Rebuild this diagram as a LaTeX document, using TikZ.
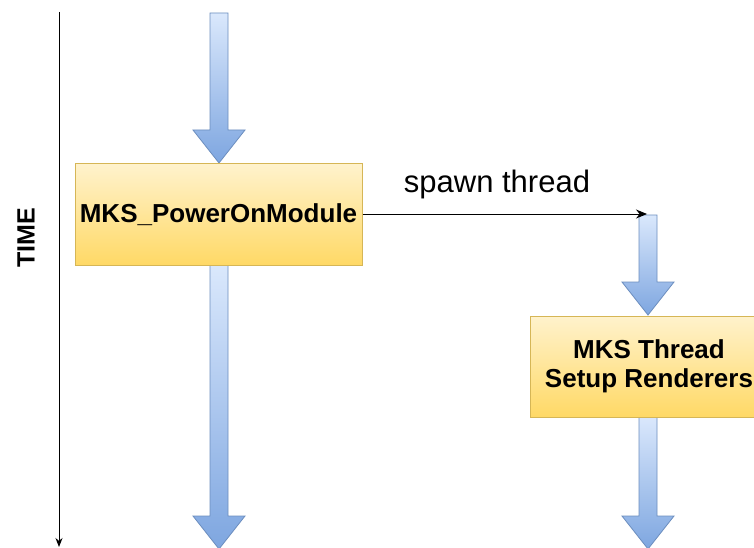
\documentclass[tikz,border=0pt]{standalone}
\usepackage{fontspec}
\setmainfont{Liberation Sans}
\usetikzlibrary{arrows.meta}
\definecolor{arrtop}{HTML}{DAE8FC}
\definecolor{arrbot}{HTML}{7EA6E0}
\definecolor{arrline}{HTML}{6C8EBF}
\definecolor{boxtop}{HTML}{FFF2CC}
\definecolor{boxbot}{HTML}{FFD966}
\definecolor{boxline}{HTML}{D6B656}
\tikzset{
  procbox/.style={draw=boxline, line width=1pt, top color=boxtop, bottom color=boxbot,
    minimum height=101pt, inner sep=0pt, align=center,
    font=\fontsize{26}{29}\selectfont\bfseries},
  fatarrow/.style={draw=arrline, line width=0.8pt, top color=arrtop, bottom color=arrbot},
  timeline/.style={draw=black, line width=1pt, -{Stealth[length=9pt,width=7pt]}},
  spawnline/.style={draw=black, line width=1pt, -{Stealth[length=11pt,width=9pt]}},
  lbl/.style={font=\fontsize{31}{36}\selectfont, inner sep=0pt}
}
\newcommand{\fatarr}[4]{%
  \shade[fatarrow] (#1-9,#2) -- (#1+9,#2) -- (#1+9,#3) -- (#1+26,#3) -- (#1,#4)
    -- (#1-26,#3) -- (#1-9,#3) -- cycle;}
\begin{document}
\begin{tikzpicture}[x=1pt,y=-1pt]
\useasboundingbox (0,0) rectangle (754,548);
\clip (0,0) rectangle (754,548);
\fill[white] (0,0) rectangle (754,548);
% time axis
\coordinate (ttop) at (59,12);
\coordinate (tbot) at (59,547);
\draw[timeline] (ttop) -- (tbot);
\node[rotate=90, font=\fontsize{25}{30}\selectfont\bfseries, inner sep=0pt] (time) at (26,238) {TIME};
% fat arrows
\fatarr{219}{13}{130}{163}
\fatarr{219}{265}{516}{549}
\fatarr{648}{215}{282}{315}
\fatarr{648}{417}{516}{549}
% boxes
\node[procbox, minimum width=287pt] (pom) at (218.5,214.5) {MKS\_PowerOnModule};
\node[procbox, minimum width=238pt] (thr) at (649,366.5) {MKS Thread\\Setup Renderers};
% spawn connector
\coordinate (spawnend) at (647,214);
\draw[spawnline] (pom.east |- 0,214) -- (spawnend);
\node[lbl, anchor=base] (spawn) at (497,192) {spawn thread};
\end{tikzpicture}
\end{document}
